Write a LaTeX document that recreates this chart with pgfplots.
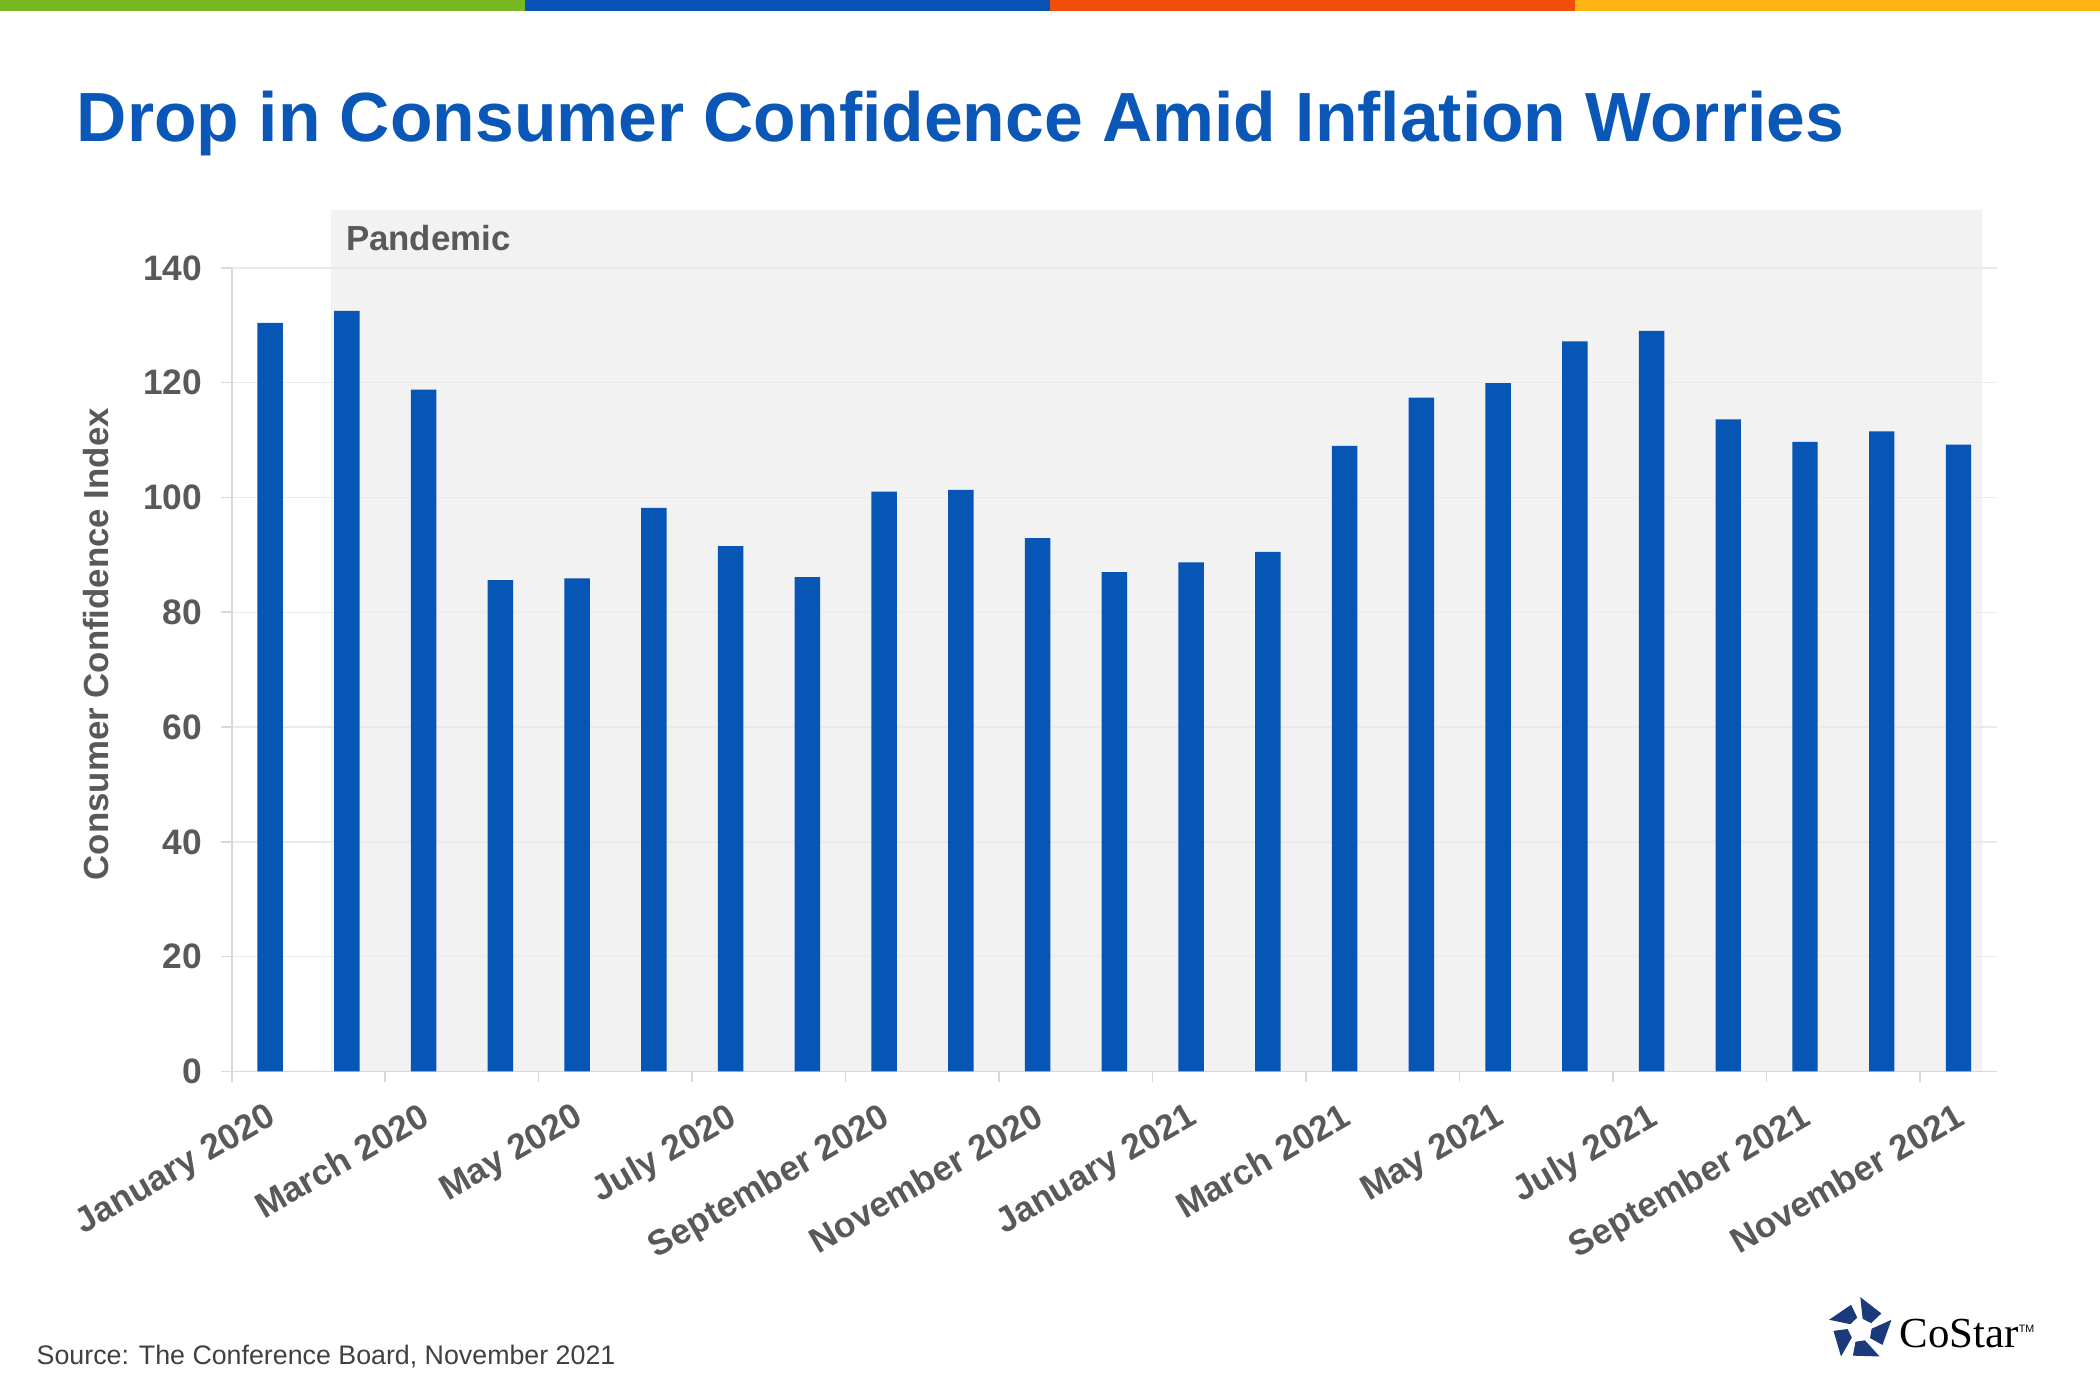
\documentclass[border=0pt]{standalone}
\usepackage{fontspec}
\setmainfont{Liberation Sans}
\newfontfamily\logofont{Liberation Serif}
\usepackage{pgfplots}
\pgfplotsset{compat=1.18}
\definecolor{barblue}{HTML}{0755B4}
\definecolor{titleblue}{HTML}{0B57B7}
\definecolor{txtgray}{HTML}{595959}
\definecolor{shadeg}{HTML}{F2F2F2}
\definecolor{gridc}{HTML}{EAEAEA}
\definecolor{axisc}{HTML}{D9D9D9}
\definecolor{srcgray}{HTML}{404040}
\definecolor{navy}{HTML}{1B3A7B}
\definecolor{sgreen}{HTML}{78B823}
\definecolor{sblue}{HTML}{0A52B5}
\definecolor{sorange}{HTML}{F24E0A}
\definecolor{samber}{HTML}{FDB515}
\pgfplotstableread{
x y
0 130.4
1 132.5
2 118.8
3 85.6
4 85.9
5 98.2
6 91.5
7 86.1
8 101.0
9 101.3
10 92.9
11 87.0
12 88.7
13 90.5
14 109.0
15 117.4
16 119.9
17 127.2
18 129.0
19 113.6
20 109.7
21 111.5
22 109.2
}\cci
\pgfplotsset{base/.style={
  scale only axis,
  width=659pt, height=300pt,
  at={(86.5pt,122.5pt)}, anchor=south west,
  xmin=-0.5, xmax=22.5, ymin=0, ymax=140,
  clip=false,
  axis lines=left,
  tick align=outside,
}}
\begin{document}
\begin{tikzpicture}
\path[use as bounding box] (0,0) rectangle (784pt,522.5pt);
% background axis: shading and boundary tick marks
\begin{axis}[base,
  axis line style={draw=none},
  ytick=\empty,
  xtick={-0.5,1.5,...,21.5},
  xticklabels={},
  x tick style={draw=axisc, line width=0.6pt},
  major tick length=4pt,
]
\fill[shadeg] (axis cs:0.79,0) rectangle (axis cs:22.31,150);
\end{axis}
\begin{axis}[base,
  axis line style={draw=axisc, line width=0.6pt, -},
  ybar, bar width=9.5pt,
  ytick={0,20,...,140},
  ymajorgrids,
  grid style={draw=gridc, line width=0.5pt},
  y tick style={draw=axisc, line width=0.6pt},
  major tick length=4pt,
  /pgf/number format/assume math mode=true,
  yticklabel style={font=\bfseries\fontsize{13.2}{15}\selectfont, text=txtgray, xshift=-3.5pt},
  xtick={0,2,...,22},
  xticklabels={January 2020, March 2020, May 2020, July 2020, September 2020, November 2020, January 2021, March 2021, May 2021, July 2021, September 2021, November 2021},
  x tick style={draw=none},
  xticklabel style={font=\bfseries\fontsize{13.2}{15}\selectfont, text=txtgray, rotate=30, anchor=north east, yshift=-4pt, xshift=-4pt, inner sep=1pt},
]
\addplot[fill=barblue, draw=none] table[x=x,y=y] {\cci};
\end{axis}
\begin{scope}[shift={(0pt,522.5pt)}, x=0.5pt, y=-0.5pt]
  % top stripe
  \fill[sgreen] (0,0) rectangle (392,8);
  \fill[sblue] (392,0) rectangle (784,8);
  \fill[sorange] (784,0) rectangle (1176,8);
  \fill[samber] (1176,0) rectangle (1568,8);
  % title
  \node[anchor=base west, inner sep=0pt, text=titleblue, font=\bfseries\fontsize{26}{30}\selectfont] at (57,106) {Drop in Consumer Confidence Amid Inflation Worries};
  % pandemic label
  \node[anchor=base west, inner sep=0pt, text=txtgray, font=\bfseries\fontsize{13}{15}\selectfont] at (258,187) {Pandemic};
  % y label
  \node[rotate=90, inner sep=0pt, text=txtgray, font=\bfseries\fontsize{13}{15}\selectfont] at (72,481) {Consumer Confidence Index};
  % source
  \node[anchor=base west, inner sep=0pt, text=srcgray, font=\fontsize{10}{12}\selectfont] at (27,1019) {Source: The Conference Board, November 2021};
  % logo
  \begin{scope}[shift={(1389,993)}]
    \foreach \k in {0,...,4} {
      \pgfmathsetmacro\a{-90+72*\k}
      \fill[navy] (\a:24.5) -- (\a+52:20) -- (\a+58:9.5) -- (\a+12:8.5) -- cycle;
    }
  \end{scope}
  \node[anchor=base west, inner sep=0pt, text=black, font=\logofont\fontsize{16}{18}\selectfont] at (1418,1006) {CoStar};
  \node[anchor=base west, inner sep=0pt, text=black, font=\fontsize{4}{5}\selectfont] at (1507,995) {TM};
\end{scope}
\end{tikzpicture}
\end{document}
